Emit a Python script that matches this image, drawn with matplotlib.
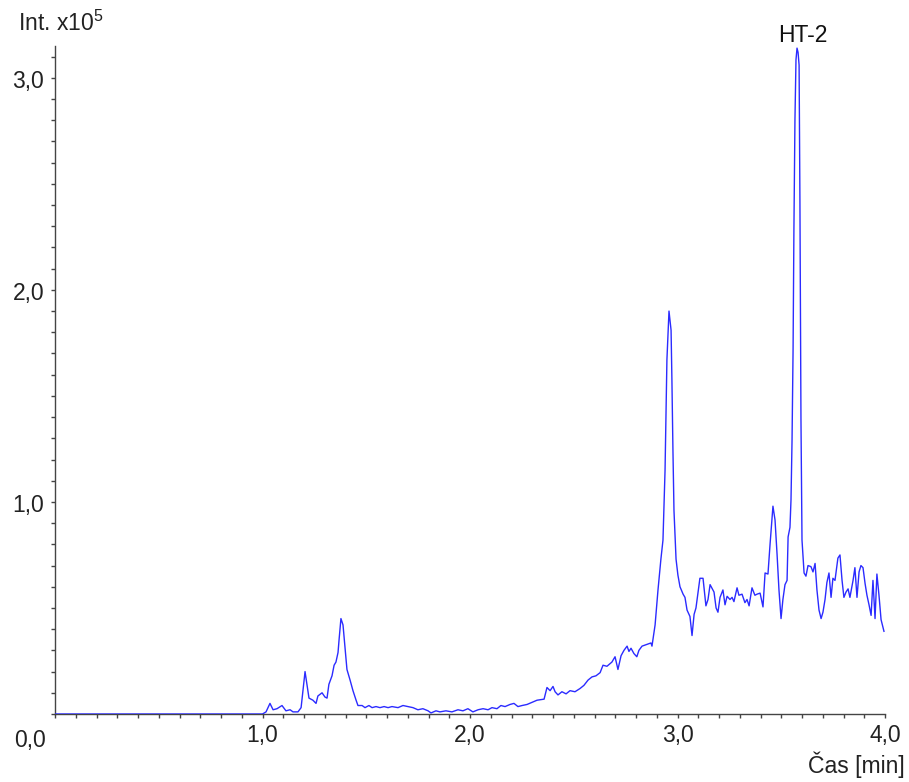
import matplotlib
matplotlib.use("Agg")
import matplotlib.pyplot as plt
from matplotlib.ticker import MultipleLocator, FixedLocator

plt.rcParams['font.family'] = ['Liberation Sans', 'DejaVu Sans']
plt.rcParams['mathtext.fontset'] = 'custom'
plt.rcParams['mathtext.rm'] = 'Liberation Sans'

# Retention time [min]
time_min = [
    0.000, 1.000, 1.017, 1.036, 1.051, 1.070, 1.094, 1.113, 1.133, 1.147, 1.171, 1.186,
    1.195, 1.205, 1.214, 1.224, 1.243, 1.258, 1.267, 1.287, 1.301, 1.311, 1.320, 1.335,
    1.345, 1.354, 1.364, 1.369, 1.378, 1.388, 1.398, 1.407, 1.422, 1.436, 1.451, 1.460,
    1.480, 1.494, 1.513, 1.528, 1.547, 1.566, 1.586, 1.605, 1.624, 1.653, 1.677, 1.701,
    1.725, 1.749, 1.773, 1.798, 1.812, 1.836, 1.855, 1.884, 1.913, 1.942, 1.966, 1.990,
    2.014, 2.039, 2.063, 2.087, 2.106, 2.130, 2.149, 2.169, 2.193, 2.212, 2.231, 2.251,
    2.275, 2.299, 2.323, 2.357, 2.371, 2.386, 2.400, 2.410, 2.424, 2.443, 2.463, 2.482,
    2.506, 2.530, 2.549, 2.569, 2.588, 2.607, 2.627, 2.641, 2.660, 2.684, 2.699, 2.713,
    2.728, 2.742, 2.757, 2.766, 2.776, 2.790, 2.804, 2.814, 2.829, 2.872, 2.877, 2.892,
    2.906, 2.920, 2.930, 2.940, 2.949, 2.959, 2.969, 2.973, 2.978, 2.983, 2.993, 3.002,
    3.012, 3.027, 3.036, 3.046, 3.060, 3.070, 3.080, 3.089, 3.108, 3.123, 3.137, 3.147,
    3.157, 3.176, 3.186, 3.195, 3.205, 3.219, 3.229, 3.239, 3.253, 3.263, 3.272, 3.287,
    3.296, 3.311, 3.325, 3.335, 3.345, 3.359, 3.373, 3.383, 3.398, 3.412, 3.422, 3.436,
    3.446, 3.460, 3.470, 3.480, 3.489, 3.499, 3.508, 3.518, 3.528, 3.533, 3.542, 3.547,
    3.552, 3.557, 3.561, 3.566, 3.571, 3.576, 3.581, 3.586, 3.590, 3.595, 3.600, 3.610,
    3.619, 3.629, 3.643, 3.653, 3.663, 3.672, 3.682, 3.692, 3.701, 3.711, 3.720, 3.730,
    3.740, 3.749, 3.759, 3.773, 3.783, 3.793, 3.802, 3.812, 3.822, 3.831, 3.846, 3.855,
    3.865, 3.875, 3.884, 3.894, 3.904, 3.913, 3.923, 3.933, 3.942, 3.952, 3.961, 3.971,
    3.981, 3.995,
]

# Intensity [x10^5]
intensity = [
    0.000, 0.000, 0.010, 0.050, 0.020, 0.025, 0.040, 0.015, 0.020, 0.010, 0.010, 0.030,
    0.110, 0.200, 0.140, 0.075, 0.065, 0.050, 0.085, 0.100, 0.080, 0.075, 0.140, 0.180,
    0.230, 0.245, 0.290, 0.350, 0.450, 0.420, 0.310, 0.210, 0.160, 0.110, 0.065, 0.040,
    0.040, 0.030, 0.040, 0.030, 0.035, 0.030, 0.035, 0.030, 0.035, 0.030, 0.040, 0.035,
    0.030, 0.020, 0.025, 0.015, 0.005, 0.015, 0.010, 0.015, 0.010, 0.020, 0.015, 0.025,
    0.010, 0.020, 0.025, 0.020, 0.030, 0.025, 0.040, 0.035, 0.045, 0.050, 0.035, 0.040,
    0.045, 0.055, 0.065, 0.070, 0.125, 0.110, 0.130, 0.105, 0.090, 0.105, 0.095, 0.110,
    0.105, 0.120, 0.135, 0.160, 0.175, 0.180, 0.195, 0.230, 0.225, 0.245, 0.270, 0.210,
    0.275, 0.300, 0.320, 0.295, 0.310, 0.285, 0.270, 0.300, 0.320, 0.335, 0.320, 0.420,
    0.585, 0.730, 0.820, 1.150, 1.670, 1.900, 1.810, 1.580, 1.245, 0.960, 0.730, 0.655,
    0.600, 0.565, 0.550, 0.490, 0.460, 0.370, 0.470, 0.500, 0.640, 0.640, 0.510, 0.540,
    0.610, 0.575, 0.500, 0.480, 0.550, 0.585, 0.515, 0.555, 0.540, 0.550, 0.530, 0.595,
    0.560, 0.565, 0.525, 0.540, 0.510, 0.595, 0.560, 0.565, 0.570, 0.505, 0.665, 0.660,
    0.800, 0.980, 0.915, 0.750, 0.585, 0.450, 0.540, 0.610, 0.630, 0.835, 0.880, 1.010,
    1.290, 1.720, 2.280, 2.800, 3.085, 3.140, 3.120, 3.060, 2.420, 1.390, 0.820, 0.665,
    0.650, 0.700, 0.695, 0.670, 0.710, 0.585, 0.490, 0.450, 0.480, 0.540, 0.620, 0.665,
    0.550, 0.640, 0.630, 0.735, 0.750, 0.630, 0.550, 0.575, 0.590, 0.550, 0.630, 0.690,
    0.550, 0.670, 0.700, 0.690, 0.615, 0.560, 0.515, 0.465, 0.630, 0.450, 0.660, 0.560,
    0.445, 0.390,
]

x_major = [1.0, 2.0, 3.0, 4.0]
x_major_labels = ["1,0", "2,0", "3,0", "4,0"]
y_major = [1.0, 2.0, 3.0]
y_major_labels = ["1,0", "2,0", "3,0"]
peak_label = "HT-2"
peak_time = 3.576
peak_height = 3.14

FS = 16.5
fig = plt.figure(figsize=(9.09, 7.82), dpi=100)
ax = fig.add_axes([55/909, 68/782, 830/909, 668/782])

ax.plot(time_min, intensity, color='#2b2bff', lw=1.0, zorder=3)

ax.set_xlim(0, 4.0)
ax.set_ylim(0, 3.15)
for s in ['top', 'right']:
    ax.spines[s].set_visible(False)
for s in ['left', 'bottom']:
    ax.spines[s].set_color('#444444')
    ax.spines[s].set_linewidth(1.0)

ax.xaxis.set_major_locator(FixedLocator(x_major))
ax.set_xticklabels(x_major_labels, fontsize=FS, color='#222222')
ax.xaxis.set_minor_locator(MultipleLocator(0.1))
ax.yaxis.set_major_locator(FixedLocator(y_major))
ax.set_yticklabels([])
ax.yaxis.set_minor_locator(MultipleLocator(0.1))
ax.tick_params(axis='both', which='both', direction='out', length=3, width=1, color='#444444')
ax.tick_params(axis='x', which='major', pad=4)

for val, lab in zip(y_major, y_major_labels):
    ax.annotate(lab, xy=(0, val), xytext=(-11, -4), textcoords='offset pixels',
                ha='right', va='center', fontsize=FS, color='#222222')

fig.text(30/909, 1 - 740/782, "0,0", ha='center', va='center', fontsize=FS, color='#222222')
fig.text(905/909, 1 - 765/782, "Čas [min]", ha='right', va='center', fontsize=FS, color='#222222')
fig.text(18/909, 1 - 23/782, r"Int. x10$^{\mathregular{5}}$", ha='left', va='center', fontsize=FS, color='#222222')

ax.annotate(peak_label, xy=(peak_time, peak_height), xytext=(6, 13), textcoords='offset pixels',
            ha='center', va='center', fontsize=FS, color='#111111', annotation_clip=False)

fig.savefig("out.png", dpi=100)
